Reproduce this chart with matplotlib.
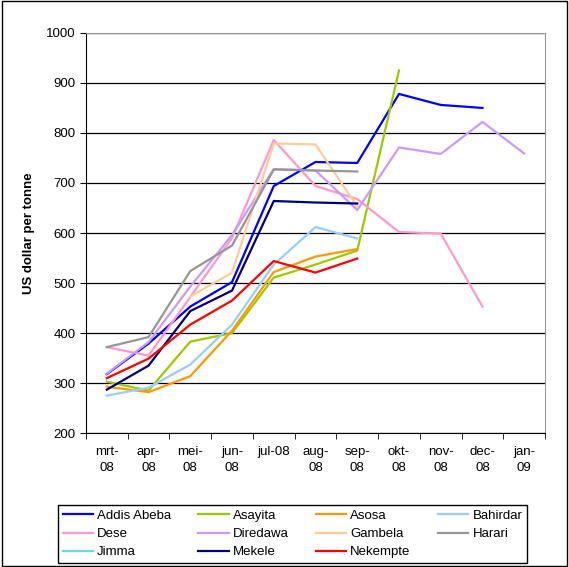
import matplotlib.pyplot as plt
import numpy as np
from matplotlib.patches import Rectangle

plt.rcParams['font.family'] = ['Liberation Sans', 'DejaVu Sans']

# maanden
maanden = ["mrt-\n08", "apr-\n08", "mei-\n08", "jun-\n08", "jul-08", "aug-\n08",
           "sep-\n08", "okt-\n08", "nov-\n08", "dec-\n08", "jan-\n09"]

nan = np.nan
addis_abeba = [318, 379, 453, 502, 694, 742, 740, 878, 856, 850, nan]
asayita = [303, 285, 383, 400, 511, 537, 565, 925, nan, nan, nan]
asosa = [293, 282, 314, 405, 522, 553, 568, nan, nan, nan, nan]
bahirdar = [275, 291, 337, 417, 537, 612, 589, nan, nan, nan, nan]
dese = [372, 355, 472, 590, 786, 694, 668, 602, 599, 453, nan]
diredawa = [319, 382, 493, 596, 728, 725, 646, 771, 758, 822, 759]
gambela = [nan, nan, 473, 521, 779, 777, 653, nan, nan, nan, nan]
harari = [372, 392, 524, 575, 727, 725, 723, nan, nan, nan, nan]
jimma = [nan] * 11
mekele = [287, 335, 444, 485, 664, 661, 659, nan, nan, nan, nan]
nekempte = [310, 349, 417, 465, 544, 521, 549, nan, nan, nan, nan]

reeksen = [
    ("Addis Abeba", addis_abeba, "#0000FF"),
    ("Asayita", asayita, "#99CC00"),
    ("Asosa", asosa, "#FF9900"),
    ("Bahirdar", bahirdar, "#99CCFF"),
    ("Dese", dese, "#FF99CC"),
    ("Diredawa", diredawa, "#CC99FF"),
    ("Gambela", gambela, "#FFCC99"),
    ("Harari", harari, "#969696"),
    ("Jimma", jimma, "#66DDDD"),
    ("Mekele", mekele, "#000080"),
    ("Nekempte", nekempte, "#FF0000"),
]

fig = plt.figure(figsize=(5.69, 5.67), dpi=100)
ax = fig.add_axes([0.151, 0.236, 0.807, 0.706])

x = np.arange(len(maanden))
lijnen = []
for naam, waarden, kleur in reeksen:
    l, = ax.plot(x, waarden, color=kleur, linewidth=1.6, label=naam)
    lijnen.append(l)

ax.set_xlim(-0.5, len(maanden) - 0.5)
ax.set_ylim(200, 1000)
ax.set_yticks(range(200, 1001, 100))
ax.yaxis.grid(True, color="black", linewidth=0.9)
ax.set_axisbelow(True)

ax.set_xticks(x)
ax.set_xticklabels(maanden, fontsize=9.5, va="top", linespacing=1.45)
ax.set_xticks(np.arange(-0.5, len(maanden)), minor=True)
ax.tick_params(axis="x", which="major", length=0, pad=9)
ax.tick_params(axis="x", which="minor", length=4, direction="out")
ax.tick_params(axis="y", labelsize=9.5, length=4, direction="out")

for kant in ["top", "right"]:
    ax.spines[kant].set_color("#999999")
ax.spines["left"].set_color("black")
ax.spines["bottom"].set_color("black")

ax.set_ylabel("US dollar per tonne", fontsize=9.5, fontweight="bold", labelpad=8)

# legenda rijgewijs: kolommen worden eerst gevuld
volgorde = [0, 4, 8, 1, 5, 9, 2, 6, 10, 3, 7]
fig.legend([lijnen[i] for i in volgorde], [reeksen[i][0] for i in volgorde],
           loc="lower left", bbox_to_anchor=(0.102, 0.007, 0.824, 0.111),
           mode="expand", ncol=4, fontsize=9.5, frameon=True, fancybox=False,
           edgecolor="black", framealpha=1, borderaxespad=0, handlelength=2.3,
           handletextpad=0.3, labelspacing=0.45, columnspacing=0.5,
           borderpad=0.35)

fig.patches.append(Rectangle((0.003, 0.002), 0.994, 0.996, transform=fig.transFigure,
                             fill=False, edgecolor="black", linewidth=1))

plt.savefig("out.png", dpi=100)
